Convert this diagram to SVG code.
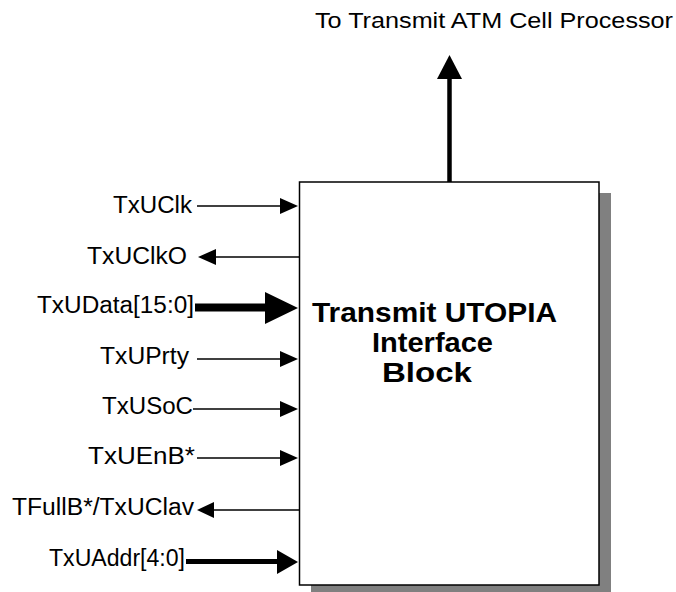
<svg xmlns="http://www.w3.org/2000/svg" width="676" height="592" viewBox="0 0 676 592">
<style>
.lbl{font-family:"Liberation Sans",Arial,sans-serif;font-size:23px;fill:#000}
.tt{font-family:"Liberation Sans",Arial,sans-serif;font-size:22px;fill:#000}
.ttl{font-family:"Liberation Sans",Arial,sans-serif;font-size:28px;font-weight:bold;fill:#000;text-anchor:middle}
.w1{stroke:#000;stroke-width:1.5;fill:none}
.head{fill:#000;stroke:none}
</style>
<rect width="676" height="592" fill="#fff"/>
<g id="block">
<rect x="311" y="193" width="300" height="405" fill="#808080"/>
<rect x="299.5" y="182" width="299.5" height="403" fill="#fff" stroke="#000" stroke-width="1.5"/>
<text class="ttl" x="434.5" y="322" textLength="245" lengthAdjust="spacingAndGlyphs">Transmit UTOPIA</text>
<text class="ttl" x="432.5" y="352" textLength="121" lengthAdjust="spacingAndGlyphs">Interface</text>
<text class="ttl" x="427" y="382" textLength="90" lengthAdjust="spacingAndGlyphs">Block</text>
</g>
<g id="title">
<text class="tt" x="315" y="28" textLength="358" lengthAdjust="spacingAndGlyphs">To Transmit ATM Cell Processor</text>
</g>
<g id="labels">
<text class="lbl" x="113" y="213" textLength="79" lengthAdjust="spacingAndGlyphs">TxUClk</text>
<text class="lbl" x="87" y="264" textLength="100" lengthAdjust="spacingAndGlyphs">TxUClkO</text>
<text class="lbl" x="37" y="313" textLength="157" lengthAdjust="spacingAndGlyphs">TxUData[15:0]</text>
<text class="lbl" x="100" y="364" textLength="89" lengthAdjust="spacingAndGlyphs">TxUPrty</text>
<text class="lbl" x="102" y="414" textLength="91" lengthAdjust="spacingAndGlyphs">TxUSoC</text>
<text class="lbl" x="88" y="464" textLength="107" lengthAdjust="spacingAndGlyphs">TxUEnB*</text>
<text class="lbl" x="12" y="515" textLength="182" lengthAdjust="spacingAndGlyphs">TFullB*/TxUClav</text>
<text class="lbl" x="49" y="566" textLength="136" lengthAdjust="spacingAndGlyphs">TxUAddr[4:0]</text>
</g>
<g id="connectors">
<line x1="449.5" y1="182" x2="449.5" y2="78" stroke="#000" stroke-width="4.5"/>
<polygon class="head" points="449.5,55 437,79 462,79"/>
<line class="w1" x1="197" y1="206" x2="282" y2="206"/>
<polygon class="head" points="298,206 280,198 280,214"/>
<line class="w1" x1="299" y1="257" x2="213" y2="257"/>
<polygon class="head" points="198,257 216,249 216,265"/>
<line x1="195" y1="307.5" x2="267" y2="307.5" stroke="#000" stroke-width="8"/>
<polygon class="head" points="298,308 265,292 265,324"/>
<line class="w1" x1="197" y1="359" x2="282" y2="359"/>
<polygon class="head" points="298,359 280,351 280,367"/>
<line class="w1" x1="193" y1="409" x2="282" y2="409"/>
<polygon class="head" points="298,409 280,401 280,417"/>
<line class="w1" x1="197" y1="458" x2="282" y2="458"/>
<polygon class="head" points="298,458 280,450 280,466"/>
<line class="w1" x1="299" y1="510" x2="211" y2="510"/>
<polygon class="head" points="197,510 214,502 214,518"/>
<line x1="186" y1="561.5" x2="279" y2="561.5" stroke="#000" stroke-width="5"/>
<polygon class="head" points="298,562 277,550 277,574"/>
</g>
</svg>
